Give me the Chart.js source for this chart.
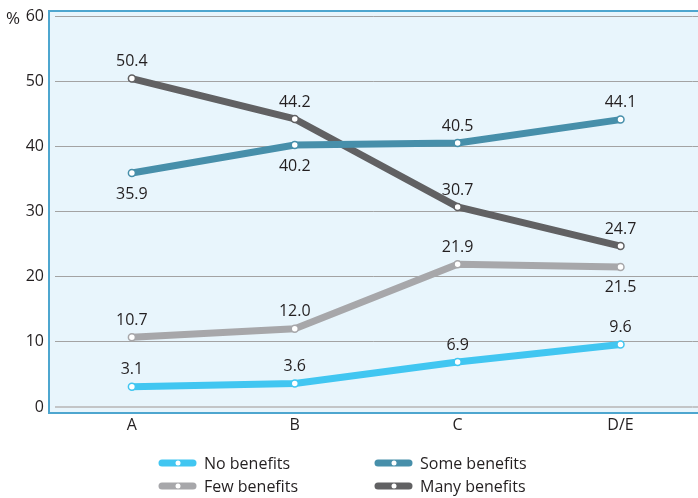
<!DOCTYPE html>
<html lang="en">
<head>
    <meta charset="UTF-8">
    <title>Benefits by group</title>
    <script src="https://cdn.jsdelivr.net/npm/chart.js"></script>
    <style>
        html, body { margin: 0; padding: 0; background: #fff; }
        #wrap { width: 698px; height: 498px; position: relative; }
    </style>
</head>
<body>
    <div id="wrap"><canvas id="chart"></canvas></div>
    <script>
        const categories = ['A', 'B', 'C', 'D/E'];
        const noBenefits = [3.1, 3.6, 6.9, 9.6];
        const fewBenefits = [10.7, 12.0, 21.9, 21.5];
        const someBenefits = [35.9, 40.2, 40.5, 44.1];
        const manyBenefits = [50.4, 44.2, 30.7, 24.7];
        const yTicks = [0, 10, 20, 30, 40, 50, 60];

        const FONT = '"Open Sans", sans-serif';
        const TEXT = '#231f20';

        function series(label, values, color, below) {
            return {
                label: label,
                data: values.map((v, i) => ({ x: i, y: v })),
                borderColor: color,
                backgroundColor: '#ffffff',
                borderWidth: 7,
                borderCapStyle: 'round',
                borderJoinStyle: 'round',
                pointRadius: 3.5,
                pointBorderWidth: 1.5,
                pointBorderColor: color,
                pointBackgroundColor: '#ffffff',
                tension: 0,
                below: below
            };
        }

        // blue panel behind the plot
        const panel = {
            id: 'panel',
            beforeDraw(chart) {
                const c = chart.ctx;
                c.save();
                c.fillStyle = '#e8f5fc';
                c.fillRect(49, 11, 649, 402);
                c.strokeStyle = '#4ea6cf';
                c.lineWidth = 2;
                c.beginPath();
                c.moveTo(698, 11);
                c.lineTo(49, 11);
                c.lineTo(49, 413);
                c.lineTo(698, 413);
                c.stroke();
                c.fillStyle = TEXT;
                c.font = '17px ' + FONT;
                c.textBaseline = 'middle';
                c.textAlign = 'left';
                c.fillText('%', 6, 19);
                c.restore();
            },
            // carry the grid lines on to the right edge of the panel
            beforeDatasetsDraw(chart) {
                const c = chart.ctx;
                const y = chart.scales.y;
                const right = chart.chartArea.right;
                c.save();
                yTicks.forEach(v => {
                    const lw = v === 0 ? 2 : 1;
                    const py = Math.round(y.getPixelForValue(v) + lw / 2) - lw / 2;
                    c.strokeStyle = v === 0 ? '#c3c5c7' : '#a3a3a3';
                    c.lineWidth = lw;
                    c.beginPath();
                    c.moveTo(right, py);
                    c.lineTo(698, py);
                    c.stroke();
                });
                c.restore();
            }
        };

        const valueLabels = {
            id: 'valueLabels',
            afterDatasetsDraw(chart) {
                const c = chart.ctx;
                c.save();
                c.fillStyle = TEXT;
                c.font = '16px ' + FONT;
                c.textAlign = 'center';
                c.textBaseline = 'middle';
                chart.data.datasets.forEach((ds, di) => {
                    chart.getDatasetMeta(di).data.forEach((pt, i) => {
                        const down = ds.below.includes(i);
                        c.fillText(ds.data[i].y.toFixed(1), pt.x, pt.y + (down ? 21 : -17));
                    });
                });
                c.restore();
            }
        };

        const legendBox = {
            id: 'legendBox',
            afterDraw(chart) {
                const c = chart.ctx;
                const order = [[0, 159, 463], [2, 375, 463], [1, 159, 486], [3, 375, 486]];
                c.save();
                c.font = '16px ' + FONT;
                c.textBaseline = 'middle';
                c.textAlign = 'left';
                order.forEach(([di, x, y]) => {
                    const ds = chart.data.datasets[di];
                    c.strokeStyle = ds.borderColor;
                    c.lineWidth = 7;
                    c.lineCap = 'round';
                    c.beginPath();
                    c.moveTo(x + 3, y);
                    c.lineTo(x + 34, y);
                    c.stroke();
                    c.fillStyle = '#ffffff';
                    c.beginPath();
                    c.arc(x + 19, y, 2.5, 0, Math.PI * 2);
                    c.fill();
                    c.fillStyle = TEXT;
                    c.fillText(ds.label, x + 45, y + 1);
                });
                c.restore();
            }
        };

        new Chart(document.getElementById('chart'), {
            type: 'line',
            data: {
                datasets: [
                    series('No benefits', noBenefits, '#41c6f1', []),
                    series('Few benefits', fewBenefits, '#a7a7aa', [3]),
                    series('Some benefits', someBenefits, '#478faa', [0, 1]),
                    series('Many benefits', manyBenefits, '#616163', [])
                ]
            },
            options: {
                responsive: true,
                maintainAspectRatio: false,
                animation: false,
                layout: { padding: { top: 16, right: 1, left: 0, bottom: 0 } },
                plugins: { legend: { display: false }, tooltip: { enabled: false } },
                scales: {
                    x: {
                        type: 'linear',
                        min: -0.472,
                        max: 3.442,
                        afterBuildTicks: s => { s.ticks = categories.map((c, i) => ({ value: i })); },
                        afterFit: s => { s.height = 91; s.paddingLeft = 0; s.paddingRight = 0; },
                        grid: { display: false, drawTicks: false },
                        border: { display: false },
                        ticks: {
                            padding: 9,
                            color: TEXT,
                            font: { family: FONT, size: 16 },
                            callback: v => categories[v]
                        }
                    },
                    y: {
                        min: 0,
                        max: 60,
                        afterBuildTicks: s => { s.ticks = yTicks.map(v => ({ value: v })); },
                        afterFit: s => { s.width = 55; s.paddingTop = 0; s.paddingBottom = 0; },
                        grid: {
                            drawTicks: false,
                            color: ctx => ctx.tick && ctx.tick.value === 0 ? '#c3c5c7' : '#a3a3a3',
                            lineWidth: ctx => ctx.tick && ctx.tick.value === 0 ? 2 : 1
                        },
                        border: { display: false },
                        ticks: {
                            padding: 11,
                            color: TEXT,
                            font: { family: FONT, size: 16 }
                        }
                    }
                }
            },
            plugins: [panel, valueLabels, legendBox]
        });
    </script>
</body>
</html>
